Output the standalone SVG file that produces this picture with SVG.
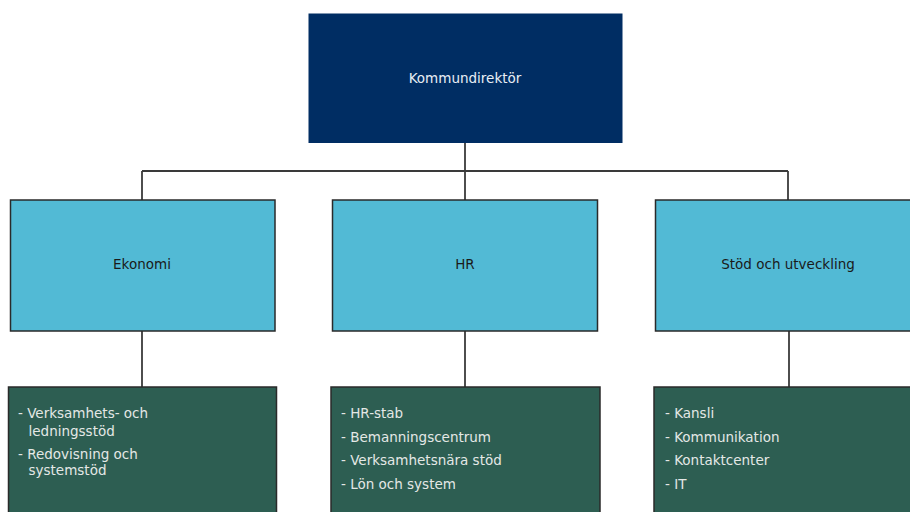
<svg xmlns="http://www.w3.org/2000/svg" width="910" height="512" viewBox="0 0 910 512">
<style>
text{font-family:"DejaVu Sans","Liberation Sans",sans-serif;font-size:13.5px}
.top rect{fill:#002d63}
.top text{fill:#e8eef5;text-anchor:middle}
.mid rect{fill:#52bad5;stroke:#2a2a2a;stroke-width:1.5}
.mid text{fill:#1a1a1a;text-anchor:middle}
.bot rect{fill:#2d5e52;stroke:#2a2a2a;stroke-width:1.5}
.bot text{fill:#e4e8e6}
.conn line{stroke:#3a3a3a;stroke-width:1.8}
</style>
<rect width="910" height="512" fill="#ffffff"/>
<g id="connectors" class="conn">
<line x1="465" y1="143" x2="465" y2="200"/>
<line x1="142" y1="171" x2="788" y2="171"/>
<line x1="142" y1="171" x2="142" y2="200"/>
<line x1="788" y1="171" x2="788" y2="200"/>
<line x1="142" y1="331" x2="142" y2="387"/>
<line x1="465" y1="331" x2="465" y2="387"/>
<line x1="789" y1="331" x2="789" y2="387"/>
</g>
<g id="kommundirektor" class="top">
<rect x="308.5" y="13.5" width="314" height="129.5"/>
<text x="465" y="83">Kommundirektör</text>
</g>
<g id="ekonomi" class="mid">
<rect x="10.5" y="200" width="264.5" height="131"/>
<text x="142" y="269">Ekonomi</text>
</g>
<g id="hr" class="mid">
<rect x="332.5" y="200" width="265" height="131"/>
<text x="465" y="269">HR</text>
</g>
<g id="stod" class="mid">
<rect x="655.5" y="200" width="265" height="131"/>
<text x="788" y="269">Stöd och utveckling</text>
</g>
<g id="ekonomi-enheter" class="bot">
<rect x="8.5" y="387" width="268" height="140"/>
<text x="18" y="418">- Verksamhets- och</text>
<text x="28.5" y="436">ledningsstöd</text>
<text x="18" y="459">- Redovisning och</text>
<text x="28.5" y="475">systemstöd</text>
</g>
<g id="hr-enheter" class="bot">
<rect x="331" y="387" width="269" height="140"/>
<text x="341" y="418">- HR-stab</text>
<text x="341" y="441.5">- Bemanningscentrum</text>
<text x="341" y="465">- Verksamhetsnära stöd</text>
<text x="341" y="488.5">- Lön och system</text>
</g>
<g id="stod-enheter" class="bot">
<rect x="654" y="387" width="270" height="140"/>
<text x="665" y="418">- Kansli</text>
<text x="665" y="441.5">- Kommunikation</text>
<text x="665" y="465">- Kontaktcenter</text>
<text x="665" y="488.5">- IT</text>
</g>
</svg>
